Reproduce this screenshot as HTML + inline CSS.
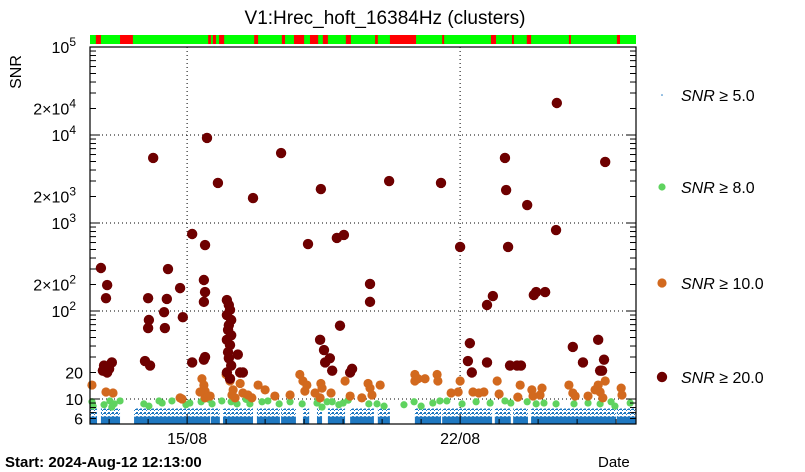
<!DOCTYPE html>
<html><head><meta charset="utf-8"><style>
body{margin:0;background:#fff;width:805px;height:472px;overflow:hidden}
svg{display:block;font-family:"Liberation Sans",sans-serif}
</style></head><body>
<svg id="c" width="805" height="472">
<defs><pattern id="spk" width="4" height="4" patternUnits="userSpaceOnUse"><rect width="4" height="4" fill="#fff"/><rect x="0" y="0" width="2" height="2" fill="#1f78c1"/><rect x="2" y="2" width="1" height="1" fill="#1f78c1"/><rect x="3" y="1" width="1" height="1" fill="#1f78c1"/></pattern></defs>
<text x="385" y="24" text-anchor="middle" font-size="19">V1:Hrec_hoft_16384Hz (clusters)</text>
<text transform="translate(21,72) rotate(-90)" text-anchor="middle" font-size="16">SNR</text>
<text x="5" y="467" font-size="15" font-weight="bold">Start: 2024-Aug-12 12:13:00</text>
<text x="598" y="467" font-size="15">Date</text>
<g id="seg"></g>
<g id="grid"></g>
<g id="blue"></g>
<g id="green"></g>
<g id="orange"></g>
<g id="maroon"></g>
<g id="axes"></g>
<g id="legend"></g>
</svg>
<script>
const X0=90,X1=636,Y0=47,Y1=424,DAYS=14;
const yTickVals=[6,10,20,100,200,1000,2000,10000,20000,100000];
const yTickLabels=["6","10","20","10^2","2×10^2","10^3","2×10^3","10^4","2×10^4","10^5"];
const xTickDays=[2.49,9.49];
const xTickLabels=["15/08","22/08"];
const redSegments=[[0.15,0.28],[0.77,1.1],[3.03,3.1],[3.15,3.23],[3.31,3.44],[4.21,4.31],[4.92,5.0],[5.23,5.49],[5.64,5.85],[5.97,6.1],[6.56,6.69],[7.31,7.38],[7.69,8.36],[9.03,9.08],[10.28,10.41],[10.82,10.87],[11.2,11.31],[12.28,12.33],[13.51,13.59]];
const blueSegments=[[0,0.18],[0.28,0.77],[1.13,3.08],[3.10,3.33],[3.41,4.18],[4.28,4.87],[4.90,5.28],[5.46,5.62],[5.82,5.95],[6.10,6.54],[6.67,7.28],[7.38,7.69],[8.33,9.0],[9.03,10.31],[10.38,10.79],[10.85,11.23],[11.31,13.49],[13.51,14.0]];
const blueLevel=6.3;
const blueMax=7.8;
const greenDays=[0.05,0.08,0.36,0.56,0.51,0.62,0.77,1.38,1.51,1.77,1.85,2.10,2.46,2.56,2.85,3.05,3.13,3.38,3.62,3.77,4.00,4.10,4.41,4.56,4.85,5.13,5.44,5.82,5.85,5.95,6.08,6.21,6.38,6.49,6.62,7.15,7.36,7.54,8.05,8.31,8.49,8.79,8.97,9.15,9.54,9.90,10.26,10.64,10.79,11.21,11.44,11.64,11.95,12.41,12.77,13.08,13.36,13.46,13.85];
const greenSNR=[9.3,8.3,8.6,8.1,9.5,8.8,9.5,8.8,8.3,9.5,9.0,9.5,8.6,9.0,9.3,9.9,8.8,9.5,9.3,8.8,9.9,8.8,9.3,9.5,8.8,9.3,8.8,9.0,9.7,8.1,9.3,9.3,8.6,9.0,9.7,8.8,8.8,8.3,8.6,9.3,8.3,9.0,9.5,9.5,8.8,9.3,9.0,9.5,9.0,9.3,8.8,9.0,8.8,8.8,9.0,8.8,9.3,8.3,9.0];
const orangeDays=[0.05,0.41,0.59,2.31,2.36,2.87,2.92,2.95,2.95,3.08,2.82,3.49,3.59,3.67,3.72,3.85,3.92,3.64,4.05,4.15,4.31,4.49,4.74,5.13,5.38,5.46,5.51,5.56,5.77,5.92,5.95,6.18,5.90,6.54,6.67,6.97,7.13,7.18,7.23,7.44,8.33,8.33,8.41,8.59,8.90,8.92,9.26,9.49,9.44,9.82,9.97,10.10,10.44,10.49,10.97,11.03,11.33,11.36,11.54,11.59,12.28,12.38,12.44,12.77,12.95,13.03,13.08,13.15,13.21,13.62,13.64];
const orangeSNR=[14.4,12,11.7,10.3,10,17,14.4,12.3,10.3,10.8,12,19,16,12.7,10.3,15,11.7,11.1,11.1,10.3,14.4,12.7,10.8,11.1,19,16,12.3,14.4,11.7,15,13.3,11.7,10.3,16,10.8,10.3,15,13.3,11.1,14.4,19,16,17,17,19,16,11.7,16,12,12,11.7,12,16,11.4,10.5,14.4,12.7,10.8,11.1,13.3,14.4,11.7,10.8,10.8,12.7,14.4,12,10.3,16,13.3,11.1];
const maroonDays=[0.28,0.41,0.44,0.36,0.49,0.56,0.33,0.44,1.41,1.49,1.51,1.49,1.54,1.62,2.0,1.97,1.90,1.92,2.31,2.38,2.62,2.62,2.95,2.92,2.95,3.0,2.92,2.95,2.92,3.28,3.51,3.56,3.59,3.51,3.62,3.56,3.54,3.62,3.51,3.59,3.54,3.56,3.62,3.51,3.59,3.79,3.85,3.92,4.18,4.90,5.59,5.92,5.90,6.0,6.03,6.15,6.21,6.33,6.41,6.51,6.67,6.72,7.18,7.18,7.67,9.0,9.49,9.74,9.69,9.79,10.18,10.18,10.33,10.64,10.67,10.72,10.77,10.95,11.05,11.21,11.38,11.44,11.67,11.95,11.97,12.38,12.64,13.03,13.18,13.08,13.13,13.21];
const maroonSNR=[308,140,197,24,22,26,21,20,27,140,79,64,24,5480,300,137,97,64,182,85,750,26,562,225,164,9250,127,30,28,2850,133,117,103,90,79,69,61,53,47,41,34,29,24,20,17,32,20,20,1920,6240,577,2430,47,36,26,29,21,676,68,731,20,22,203,127,3000,2850,534,43,27,20,26,117,148,5480,2370,534,24,24,24,1600,152,164,164,832,23100,39,26,47,28,21,21,4940];

const NS="http://www.w3.org/2000/svg";
const xs=d=>X0+(d/DAYS)*(X1-X0);
const ys=v=>399-(Math.log10(v)-1)*88;
function mk(tag,at,parent){const e=document.createElementNS(NS,tag);for(const k in at)e.setAttribute(k,at[k]);document.getElementById(parent).appendChild(e);return e;}

let g=mk('rect',{x:X0,y:35,width:X1-X0,height:9,fill:'#00ff00'},'seg');


redSegments.forEach(s=>{const r=mk('rect',{x:xs(s[0]),y:35,width:xs(s[1])-xs(s[0]),height:9,fill:'#ff0000'},'seg');

});

[10,100,1000,10000].forEach(v=>{const l=mk('line',{x1:X0,x2:X1,y1:ys(v),y2:ys(v),stroke:'#000','stroke-dasharray':'1,3','stroke-width':1},'grid');

});
xTickDays.forEach(d=>{const l=mk('line',{x1:xs(d),x2:xs(d),y1:Y0,y2:Y1,stroke:'#000','stroke-dasharray':'1,3','stroke-width':1},'grid');

});

blueSegments.forEach(s=>{const x1=xs(s[0]),x2=xs(s[1]);
const r2=mk('rect',{x:x1,y:ys(blueMax),width:x2-x1,height:ys(blueLevel)-ys(blueMax),fill:'url(#spk)'},'blue');


const r=mk('rect',{x:x1,y:ys(blueLevel),width:x2-x1,height:Y1-ys(blueLevel),fill:'#1f78c1'},'blue');

});

function dots(days,vals,id,r,col,name){days.forEach((d,i)=>{const c=mk('circle',{cx:xs(d),cy:ys(vals[i]),r:r,fill:col},id);

});}
dots(greenDays,greenSNR,'green',3.6,'#5fd35f','point-snr-8');
dots(orangeDays,orangeSNR,'orange',4.6,'#d2691e','point-snr-10');
dots(maroonDays,maroonSNR,'maroon',5.2,'#6e0000','point-snr-20');

let f=mk('rect',{x:X0,y:Y0,width:X1-X0,height:Y1-Y0,fill:'none',stroke:'#000','stroke-width':1.2},'axes');


for(let e=0;e<5;e++)for(let m=1;m<10;m++){const v=m*Math.pow(10,e);if(v<5.2)continue;const y=ys(v);const L=m==1?10:6;
const t=mk('line',{x1:X0,x2:X0+L,y1:y,y2:y,stroke:'#000'},'axes');


const t2=mk('line',{x1:X1-L,x2:X1,y1:y,y2:y,stroke:'#000'},'axes');

}
{const t=mk('line',{x1:X0,x2:X0+10,y1:Y0,y2:Y0,stroke:'#000'},'axes');}
yTickVals.forEach((v,i)=>{const lab=yTickLabels[i];const y=ys(v)+6;
const t=mk('text',{x:83,y:y,'text-anchor':'end','font-size':16},'axes');


if(lab.includes('^')){const [b,p]=lab.split('^');t.textContent=b;const s=document.createElementNS(NS,'tspan');s.setAttribute('dy','-7');s.setAttribute('font-size','12');s.textContent=p;t.appendChild(s);t.setAttribute('x',76);}
else t.textContent=lab;});
xTickDays.forEach((d,i)=>{const t=mk('text',{x:xs(d),y:444,'text-anchor':'middle','font-size':16},'axes');t.textContent=xTickLabels[i];

});
for(let d=0.49;d<DAYS;d+=1){const L=(Math.abs(d-2.49)<0.01||Math.abs(d-9.49)<0.01)?10:5;
const t=mk('line',{x1:xs(d),x2:xs(d),y1:Y1,y2:Y1-L,stroke:'#000'},'axes');

}

const legY=[95,187,283,377],legCol=['#1f78c1','#5fd35f','#d2691e','#6e0000'],legR=[0.8,3.6,4.6,5.2],legLab=['5.0','8.0','10.0','20.0'];
legY.forEach((y,i)=>{const c=mk('circle',{cx:662,cy:y,r:legR[i],fill:legCol[i]},'legend');


const t=mk('text',{x:681,y:y+6,'font-size':16},'legend');


t.innerHTML='<tspan font-style="italic">SNR</tspan> ≥ '+legLab[i];});
</script>
</body></html>
